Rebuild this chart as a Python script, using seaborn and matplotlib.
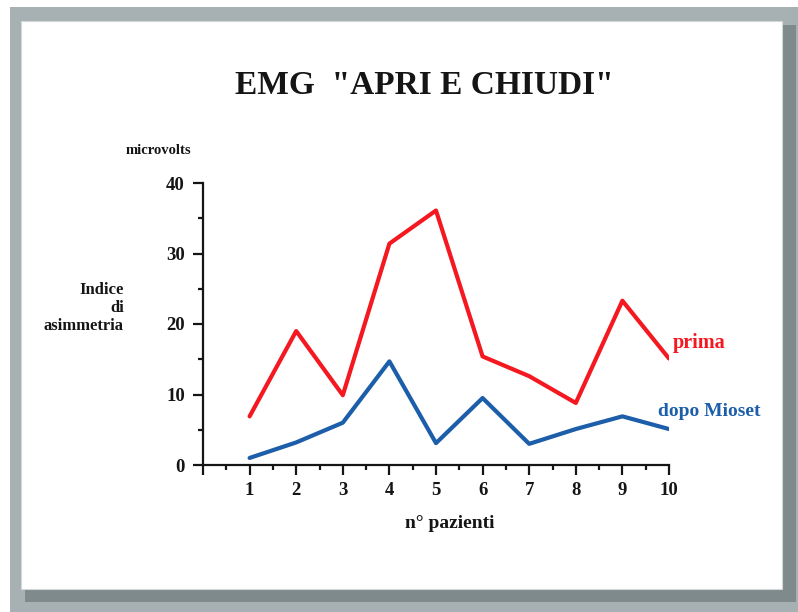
import numpy as np
import pandas as pd
import seaborn as sns
import matplotlib
matplotlib.use("Agg")
import matplotlib.pyplot as plt
from matplotlib.patches import Rectangle

# ---- data ----
pazienti = [1, 2, 3, 4, 5, 6, 7, 8, 9, 10]
prima = [6.9, 19.0, 9.9, 31.4, 36.1, 15.4, 12.6, 8.8, 23.3, 15.1]
dopo_mioset = [1.0, 3.2, 6.0, 14.7, 3.1, 9.5, 3.0, 5.1, 6.9, 5.1]
series_names = ["prima", "dopo Mioset"]
x_ticks = [0, 1, 2, 3, 4, 5, 6, 7, 8, 9, 10]
x_tick_labels = ["", "1", "2", "3", "4", "5", "6", "7", "8", "9", "10"]
y_ticks = [0, 10, 20, 30, 40]
y_tick_labels = ["0", "10", "20", "30", "40"]

sns.set_style("ticks")
plt.rcParams["font.family"] = ["Liberation Serif", "DejaVu Serif"]
plt.rcParams["font.weight"] = "bold"

RED = "#f41820"
BLUE = "#1c5ea9"
INK = "#151515"

W, H = 798, 612
fig = plt.figure(figsize=(W / 100, H / 100), dpi=100, facecolor="white")

# background frame (gray), shadow, white card -- in pixel coordinates
bg = fig.add_axes([0, 0, 1, 1], zorder=-10)
bg.set_xlim(0, W)
bg.set_ylim(H, 0)
bg.axis("off")
bg.add_patch(Rectangle((10, 7), W - 10, H - 7, facecolor="#a7b1b3", edgecolor="none"))
bg.add_patch(Rectangle((25, 25), 771, 577, facecolor="#7f8a8c", edgecolor="none"))
bg.add_patch(Rectangle((21, 21), 761, 568, facecolor="white", edgecolor="#d3d7d8", linewidth=0.8))

df = pd.DataFrame({
    "paziente": pazienti * 2,
    "valore": prima + dopo_mioset,
    "serie": [series_names[0]] * len(prima) + [series_names[1]] * len(dopo_mioset),
})

ax = fig.add_axes([203 / W, 1 - 465 / H, 466 / W, 282 / H])
ax.set_facecolor("none")
sns.lineplot(data=df, x="paziente", y="valore", hue="serie",
             palette={series_names[0]: RED, series_names[1]: BLUE},
             linewidth=3.0, legend=False, ax=ax)

ax.set_xlim(0, 10)
ax.set_ylim(0, 40)
ax.margins(0)
sns.despine(ax=ax)
for s in ["left", "bottom"]:
    ax.spines[s].set_linewidth(1.6)
    ax.spines[s].set_color(INK)

ax.set_xticks(x_ticks)
ax.set_xticklabels(x_tick_labels)
ax.set_xticks(np.arange(0.5, 10, 1.0), minor=True)
ax.set_yticks(y_ticks)
ax.set_yticklabels(y_tick_labels)
ax.set_yticks([5, 15, 25, 35], minor=True)
ax.tick_params(axis="both", which="major", direction="out", length=7, width=1.6,
               color=INK, labelcolor=INK, labelsize=13.5, pad=6)
ax.tick_params(axis="x", which="major", pad=5)
ax.tick_params(axis="both", which="minor", direction="out", length=3.5, width=1.6,
               color=INK)
for lab in ax.get_xticklabels() + ax.get_yticklabels():
    lab.set_fontweight("bold")
ax.set_xlabel("")
ax.set_ylabel("")

# texts
fig.text(424 / W, 1 - 86 / H, 'EMG  "APRI E CHIUDI"', ha="center", va="center",
         fontsize=24, fontweight="bold", color=INK)
fig.text(158 / W, 1 - 150 / H, "microvolts", ha="center", va="center",
         fontsize=10.5, fontweight="bold", color=INK)
fig.text(124 / W, 1 - 308 / H, "Indice\ndi\nasimmetria", ha="right", va="center",
         fontsize=12, fontweight="bold", color=INK, linespacing=1.2,
         multialignment="right")
fig.text(450 / W, 1 - 524 / H, "n° pazienti", ha="center", va="center",
         fontsize=14, fontweight="bold", color=INK)
fig.text(673 / W, 1 - 343 / H, "prima", ha="left", va="center",
         fontsize=14.5, fontweight="bold", color=RED)
fig.text(658 / W, 1 - 411 / H, "dopo Mioset", ha="left", va="center",
         fontsize=14, fontweight="bold", color=BLUE)

fig.savefig("out.png", dpi=100, facecolor="white")
